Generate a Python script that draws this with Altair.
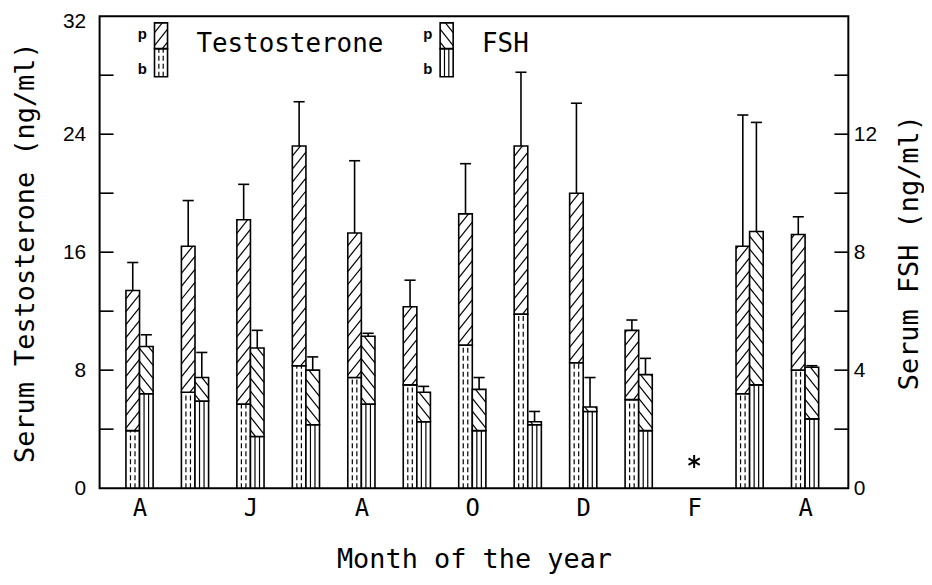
import json
import altair as alt
import pandas as pd

# ---------------- data ----------------
months = ["Apr", "May", "Jun", "Jul", "Aug", "Sep", "Oct", "Nov", "Dec", "Jan", "Feb", "Mar", "Apr2"]
tick_labels = ["A", "J", "A", "O", "D", "F", "A"]
missing_month = "Feb"
# Testosterone (ng/ml): peak (p), basal (b), SE of peak
t_peak = [13.4, 16.4, 18.2, 23.2, 17.3, 12.3, 18.6, 23.2, 20.0, 10.7, None, 16.4, 17.2]
t_basal = [3.9, 6.5, 5.7, 8.3, 7.5, 7.0, 9.7, 11.8, 8.5, 6.0, None, 6.4, 8.0]
t_se = [1.9, 3.1, 2.4, 3.0, 4.9, 1.8, 3.4, 5.0, 6.1, 0.7, None, 8.9, 1.2]
# FSH (ng/ml): peak (p), basal (b), SE of peak
fsh_peak = [4.8, 3.75, 4.75, 4.0, 5.15, 3.25, 3.35, 2.25, 2.75, 3.85, None, 8.7, 4.1]
fsh_basal = [3.2, 2.95, 1.75, 2.15, 2.85, 2.25, 1.95, 2.15, 2.6, 1.95, None, 3.5, 2.35]
fsh_se = [0.4, 0.85, 0.6, 0.45, 0.1, 0.2, 0.4, 0.35, 1.0, 0.55, None, 3.7, 0.05]

T_MAX, FSH_MAX = 32, 16
t_ticks = [0, 8, 16, 24, 32]
fsh_ticks = [0, 4, 8, 12]

# ---------------- layout ----------------
W, H = 752, 474
XD = [0.28, 13.78]
px_x = W / (XD[1] - XD[0])
px_y = H / T_MAX
BW = 0.245          # bar width in month units
ratio = T_MAX / FSH_MAX

MONO = "DejaVu Sans Mono"
SANS = "Liberation Sans"

rects, hatch, dashes, errs = [], [], [], []


def diag(x0, x1, y0, y1, d, sp=13.0, k=1.25):
    """hatch lines of slope d*k (pixel space) clipped to the rectangle"""
    w = (x1 - x0) * px_x
    h = (y1 - y0) * px_y
    out = []
    if d > 0:
        c = -k * w + sp / 2
        while c < h:
            xa, xb = max(0.0, -c / k), min(w, (h - c) / k)
            if xb - xa > 0.3:
                out.append((xa, k * xa + c, xb, k * xb + c))
            c += sp
    else:
        c = sp / 2
        while c < h + k * w:
            xa, xb = max(0.0, (c - h) / k), min(w, c / k)
            if xb - xa > 0.3:
                out.append((xa, c - k * xa, xb, c - k * xb))
            c += sp
    return [dict(x=x0 + a / px_x, x2=x0 + b / px_x, y=y0 + ya / px_y, y2=y0 + yb / px_y)
            for a, ya, b, yb in out]


def bar(x0, x1, yb, yp, d, dashed):
    rects.append(dict(x=x0, x2=x1, y=0, y2=yb))
    rects.append(dict(x=x0, x2=x1, y=yb, y2=yp))
    hatch.extend(diag(x0, x1, yb, yp, d))
    for f in (1 / 3, 2 / 3):
        xx = x0 + f * (x1 - x0)
        row = dict(x=xx, x2=xx, y=0, y2=yb)
        (dashes if dashed else hatch).append(row)


for i, m in enumerate(months):
    if t_peak[i] is None:
        continue
    c = i + 1
    bar(c - BW, c, t_basal[i], t_peak[i], +1, True)
    bar(c, c + BW, fsh_basal[i] * ratio, fsh_peak[i] * ratio, -1, False)
    for xc, top, se in ((c - BW / 2, t_peak[i], t_se[i]), (c + BW / 2, fsh_peak[i] * ratio, fsh_se[i] * ratio)):
        errs.append(dict(x=xc, x2=xc, y=top, y2=top + se))
        errs.append(dict(x=xc - 0.1, x2=xc + 0.1, y=top + se, y2=top + se))

# legend boxes (two hatch keys)
leg_top, leg_mid, leg_bot = 31.55, 29.8, 27.9
leg_items = [("Testosterone", 1.27, +1, True), ("FSH", 6.42, -1, False)]
leg_text = []
for name, lx, d, dashed in leg_items:
    x0, x1 = lx, lx + 0.235
    rects.append(dict(x=x0, x2=x1, y=leg_bot, y2=leg_mid))
    rects.append(dict(x=x0, x2=x1, y=leg_mid, y2=leg_top))
    hatch.extend(diag(x0, x1, leg_mid, leg_top, d))
    for f in (1 / 3, 2 / 3):
        xx = x0 + f * (x1 - x0)
        (dashes if dashed else hatch).append(dict(x=xx, x2=xx, y=leg_bot, y2=leg_mid))
    leg_text.append(dict(x=x1 + 0.52, y=30.1, t=name, kind="name"))
    leg_text.append(dict(x=x0 - 0.22, y=30.8, t="p", kind="pb"))
    leg_text.append(dict(x=x0 - 0.22, y=28.4, t="b", kind="pb"))

rect_df = pd.DataFrame(rects)
hatch_df = pd.DataFrame(hatch)
dash_df = pd.DataFrame(dashes)
err_df = pd.DataFrame(errs)
leg_df = pd.DataFrame(leg_text)
star_df = pd.DataFrame([dict(x=months.index(missing_month) + 1, y=1.8)])
left_ticks = pd.DataFrame({"x": [XD[0]] * 7, "v": list(range(4, T_MAX, 4))})

xs = alt.Scale(domain=XD, nice=False, zero=False)
ys = alt.Scale(domain=[0, T_MAX], nice=False)

label_expr = "%s[round((datum.value-1)/2)]" % json.dumps(tick_labels)
x_axis = alt.Axis(values=[1, 3, 5, 7, 9, 11, 13], labelExpr=label_expr, title="Month of the year",
                  grid=False, ticks=False, domain=False, labelFont=MONO, labelFontSize=24,
                  labelPadding=8, labelColor="black", titleFont=MONO, titleFontSize=27,
                  titleFontWeight="normal", titleColor="black", titleY=72, titleBaseline="middle")
y_axis = alt.Axis(values=t_ticks, title="Serum Testosterone (ng/ml)", grid=False,
                  ticks=False, domain=False, labelFont=SANS, labelFontSize=21, labelPadding=14,
                  labelBaseline="middle",
                  labelOffset={"condition": {"test": "datum.value == %d" % T_MAX, "value": 5},
                               "value": 0},
                  labelColor="black", titleFont=MONO, titleFontSize=27, titleFontWeight="normal",
                  titleColor="black", titleX=-74, titleY=H / 2, titleAngle=270, titleBaseline="middle",
                  titleAlign="center")

X = alt.X("x:Q", scale=xs, axis=x_axis)
Y = alt.Y("y:Q", scale=ys, axis=y_axis)

rect_layer = alt.Chart(rect_df).mark_rect(fill="white", stroke="black", strokeWidth=1.6).encode(
    x=X, x2="x2:Q", y=Y, y2="y2:Q")
hatch_layer = alt.Chart(hatch_df).mark_rule(color="black", strokeWidth=1.2).encode(
    x=X, x2="x2:Q", y=Y, y2="y2:Q")
dash_layer = alt.Chart(dash_df).mark_rule(color="black", strokeWidth=1.2, strokeDash=[5, 3]).encode(
    x=X, x2="x2:Q", y=Y, y2="y2:Q")
err_layer = alt.Chart(err_df).mark_rule(color="black", strokeWidth=1.6).encode(
    x=X, x2="x2:Q", y=Y, y2="y2:Q")
star_layer = alt.Chart(star_df).mark_point(
    shape="M0,-1L0,1M-0.87,-0.5L0.87,0.5M-0.87,0.5L0.87,-0.5", size=170, stroke="black", color="black",
    strokeWidth=2, filled=False, opacity=1).encode(x=X, y=Y)
leg_name = alt.Chart(leg_df[leg_df.kind == "name"]).mark_text(
    font=MONO, fontSize=26, align="left", baseline="middle", color="black").encode(
    x=X, y=Y, text="t:N")
leg_pb = alt.Chart(leg_df[leg_df.kind == "pb"]).mark_text(
    font=SANS, fontSize=15, fontWeight="bold", align="center", baseline="middle", color="black").encode(
    x=X, y=Y, text="t:N")
left_layer = alt.Chart(left_ticks).mark_rule(color="black", strokeWidth=1.6).encode(
    x=X, x2=alt.X2Datum(XD[0] + 14 / px_x), y=alt.Y("v:Q", scale=ys, axis=y_axis))

right_ticks = pd.DataFrame({"v": list(range(2, FSH_MAX, 2))})
right_layer = alt.Chart(right_ticks).mark_rule(color="black", strokeWidth=1.6).encode(
    x=alt.value(W - 14), x2=alt.value(W),
    y=alt.Y("v:Q", scale=alt.Scale(domain=[0, FSH_MAX], nice=False),
            axis=alt.Axis(orient="right", values=fsh_ticks, title="Serum FSH (ng/ml)", grid=False,
                          ticks=False, domain=False, labelFont=SANS, labelFontSize=21, labelPadding=5,
                          labelColor="black", titleFont=MONO, titleFontSize=27, titleFontWeight="normal",
                          titleColor="black", titleX=61, titleY=H / 2, titleAngle=270,
                          titleBaseline="middle", titleAlign="center")))

main = alt.layer(rect_layer, hatch_layer, dash_layer, err_layer, star_layer, leg_name, leg_pb, left_layer)
chart = alt.layer(main, right_layer).resolve_scale(y="independent").properties(
    width=W, height=H,
    autosize=alt.AutoSizeParams(type="none"),
    padding={"left": 92, "top": 7, "right": 76, "bottom": 88},
    background="white",
).configure_view(stroke="black", strokeWidth=2)

chart.save("out.html", embed_options={"renderer": "svg", "actions": False})
